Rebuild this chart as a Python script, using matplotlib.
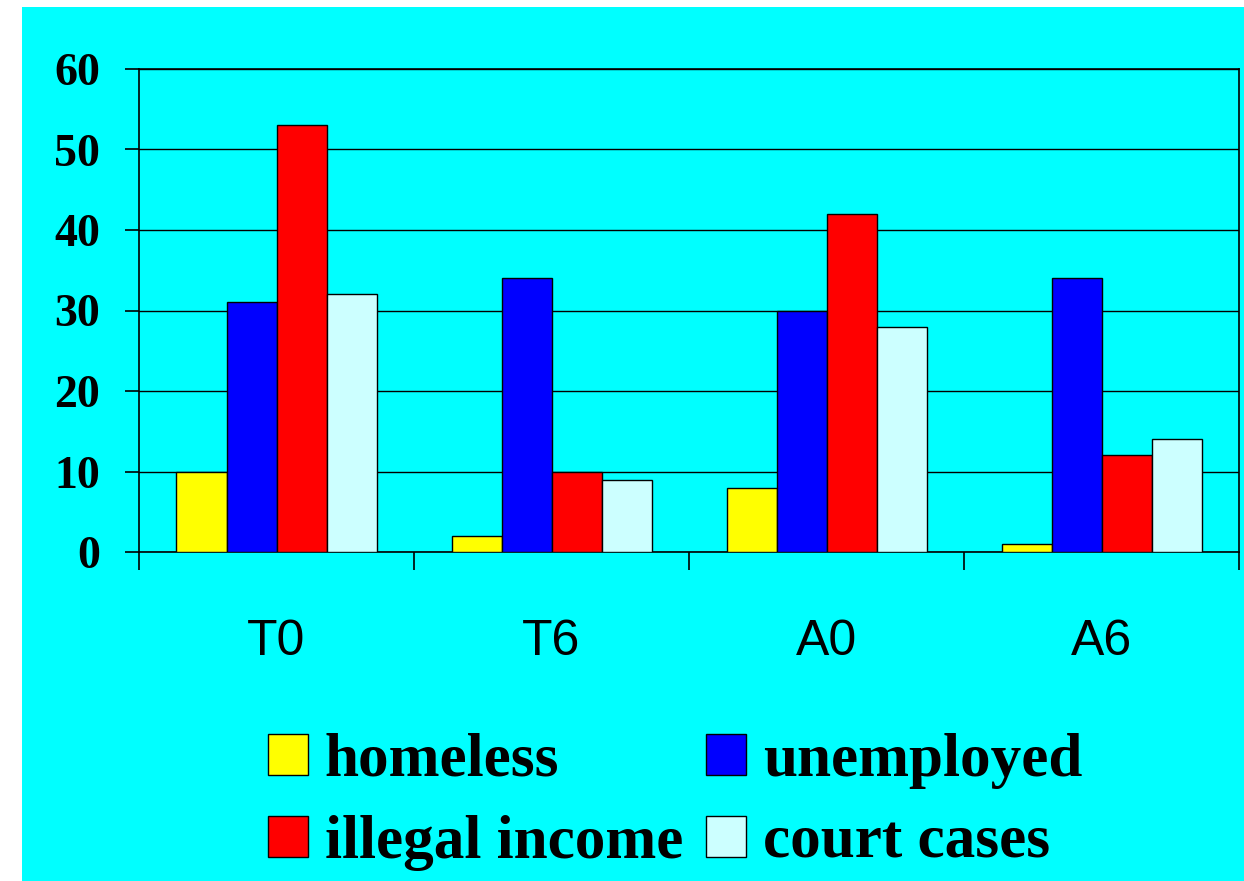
import matplotlib
matplotlib.use("Agg")
import matplotlib.pyplot as plt
import numpy as np
from matplotlib.patches import Rectangle, Patch

periods = ["T0", "T6", "A0", "A6"]
series = ["homeless", "unemployed", "illegal income", "court cases"]
homeless = [10, 2, 8, 1]
unemployed = [31, 34, 30, 34]
illegal_income = [53, 10, 42, 12]
court_cases = [32, 9, 28, 14]
colors = ["#FFFF00", "#0000FF", "#FF0000", "#CCFFFF"]

values = [homeless, unemployed, illegal_income, court_cases]

fig = plt.figure(figsize=(12.44, 8.81), dpi=100)
fig.patch.set_facecolor("white")
# cyan panel behind everything, leaving a thin white strip on the left/top
fig.patches.append(Rectangle((22 / 1244, 0), 1 - 22 / 1244, 1 - 7 / 881,
                             transform=fig.transFigure, facecolor="#00FFFF",
                             edgecolor="none", zorder=-10))

ax = fig.add_axes([139 / 1244, 1 - 552 / 881, (1239 - 139) / 1244, (552 - 69) / 881])
ax.set_facecolor("#00FFFF")

x = np.arange(len(periods))
width = 0.5 / 2.75
for i, (vals, col) in enumerate(zip(values, colors)):
    ax.bar(x + (i - 1.5) * width, vals, width, color=col, edgecolor="black",
           linewidth=1.0, zorder=3)

ax.set_xlim(-0.5, 3.5)
ax.set_ylim(0, 60)
ax.set_yticks(range(0, 61, 10))
ax.yaxis.grid(True, color="black", linewidth=1.0, zorder=0)
ax.set_axisbelow(True)

ax.set_xticks(np.arange(-0.5, 4, 1))
ax.set_xticklabels([])
ax.set_xticks(x, minor=True)
ax.set_xticklabels(periods, minor=True, fontsize=36, family="Liberation Sans")
ax.tick_params(axis="x", which="major", direction="out", length=13, width=1.2)
ax.tick_params(axis="x", which="minor", length=0, pad=48)
ax.tick_params(axis="y", direction="out", length=10, width=1.2, pad=18)
for lab in ax.get_yticklabels():
    lab.set_fontsize(33)
    lab.set_fontweight("bold")
    lab.set_family("Liberation Serif")

for sp in ax.spines.values():
    sp.set_color("black")
    sp.set_linewidth(1.2)

# legend order: column-major so rows read homeless/unemployed, illegal/court
handles = [Patch(facecolor=c, edgecolor="black", linewidth=1.0) for c in colors]
order = [0, 2, 1, 3]
fig.legend([handles[k] for k in order], [series[k] for k in order],
           ncol=2, loc="upper left", bbox_to_anchor=(268 / 1244, 1 - 733 / 881),
           frameon=False, borderpad=0, borderaxespad=0,
           handlelength=0.65, handleheight=0.65, handletextpad=0.28,
           columnspacing=0.37, labelspacing=0.42,
           prop={"family": "Liberation Serif", "weight": "bold", "size": 44})

fig.savefig("out.png", dpi=100)
